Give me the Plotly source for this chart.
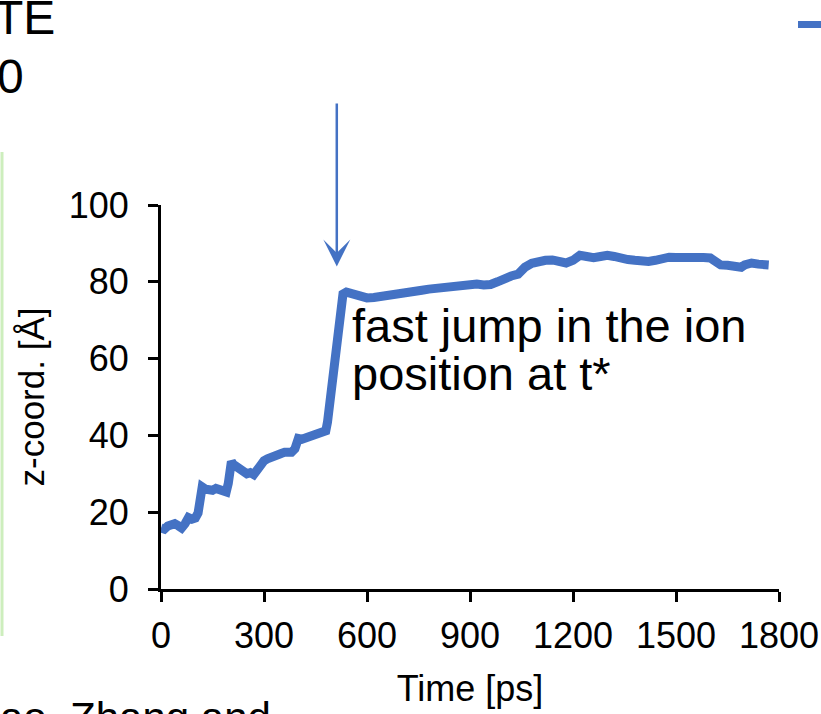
import plotly.graph_objects as go

# ---- data ----
time_ps = [0, 10, 20, 30, 40, 50, 60, 70, 80, 90, 100, 108, 112, 115, 120, 130, 140, 150, 160, 170,
           180, 190, 196, 200, 205, 210, 220, 230, 240, 250, 260, 270, 280, 290, 300, 310, 320, 330,
           340, 350, 360, 370, 380, 390, 395, 400, 410, 420, 430, 440, 450, 460, 470, 480, 485, 488,
           492, 495, 500, 505, 510, 515, 520, 525, 530, 540, 550, 560, 580, 600, 620, 640, 660, 680,
           700, 720, 740, 760, 780, 800, 820, 840, 860, 880, 900, 920, 940, 960, 980, 1000, 1020,
           1040, 1050, 1060, 1080, 1100, 1120, 1140, 1160, 1180, 1200, 1210, 1220, 1240, 1260, 1280,
           1300, 1320, 1340, 1360, 1380, 1400, 1420, 1440, 1460, 1480, 1500, 1520, 1540, 1560, 1580,
           1600, 1610, 1620, 1630, 1650, 1670, 1690, 1700, 1710, 1720, 1740, 1760, 1770]
z_coord = [15.9, 15.6, 16.4, 16.8, 17.0, 16.5, 15.9, 17.0, 18.6, 18.2, 18.5, 19.8, 22.5, 26.3, 26.6,
           26.0, 25.9, 25.7, 26.2, 25.9, 26.0, 25.3, 27.5, 32.5, 33.2, 32.5, 31.7, 31.0, 30.4, 30.0,
           30.3, 29.8, 31.0, 32.5, 33.4, 33.9, 34.4, 34.7, 35.0, 35.3, 35.6, 35.6, 35.6, 36.5, 39.0,
           39.2, 39.0, 39.3, 39.4, 39.6, 39.8, 40.0, 40.4, 41.2, 43.5, 45.8, 47.5, 50.0, 53.0, 57.0,
           61.0, 64.5, 68.5, 74.5, 76.8, 77.3, 77.0, 76.8, 76.3, 75.8, 75.9, 76.1, 76.3, 76.7, 77.0,
           77.3, 77.4, 77.8, 78.1, 78.3, 78.5, 78.7, 79.0, 79.3, 79.5, 79.4, 79.2, 79.3, 80.0, 81.0,
           81.5, 82.0, 83.3, 83.8, 84.8, 85.4, 85.6, 85.7, 85.5, 84.9, 85.6, 86.7, 86.9, 86.6, 86.3,
           86.6, 86.9, 86.6, 86.0, 85.8, 85.6, 85.4, 85.3, 85.6, 86.1, 86.4, 86.3, 86.4, 86.5, 86.4,
           86.3, 86.2, 85.8, 84.8, 84.4, 84.3, 84.0, 83.8, 84.4, 85.0, 84.9, 84.6, 84.4, 84.4]
x_ticks = [0, 300, 600, 900, 1200, 1500, 1800]
y_ticks = [0, 20, 40, 60, 80, 100]

BLUE = "#4472C4"
FONT = "Liberation Sans, Arial, sans-serif"

fig = go.Figure()
fig.add_trace(go.Scatter(x=time_ps, y=z_coord, mode="lines",
                         line=dict(color=BLUE, width=9), showlegend=False,
                         hoverinfo="skip"))

# arrow pointing to t*
fig.add_annotation(x=512, y=84.0, ax=512, ay=126.8, xref="x", yref="y", axref="x", ayref="y",
                   text="", showarrow=True, arrowhead=3, arrowsize=1.8, arrowwidth=2.5,
                   arrowcolor=BLUE)
fig.add_annotation(x=550, y=113.3, xref="x", yref="y", text="t*", showarrow=False,
                   xanchor="left", yanchor="middle", font=dict(size=47, color="black", family=FONT))
fig.add_annotation(x=550, y=68.6, xref="x", yref="y", text="fast jump in the ion", showarrow=False,
                   xanchor="left", yanchor="middle", font=dict(size=47, color="black", family=FONT))
fig.add_annotation(x=550, y=56.0, xref="x", yref="y", text="position at t*", showarrow=False,
                   xanchor="left", yanchor="middle", font=dict(size=47, color="black", family=FONT))

# cropped surrounding text fragments
fig.add_annotation(x=(57 - 161) / 618, y=(589 - 17) / 384, xref="paper", yref="paper", text="TE",
                   showarrow=False, xanchor="right", yanchor="middle",
                   font=dict(size=48, color="black", family=FONT))
fig.add_annotation(x=(26 - 161) / 618, y=(589 - 76) / 384, xref="paper", yref="paper", text="0",
                   showarrow=False, xanchor="right", yanchor="middle",
                   font=dict(size=48, color="black", family=FONT))
fig.add_annotation(x=(-2 - 161) / 618, y=(589 - 717) / 384, xref="paper", yref="paper",
                   text="ao, Zhang and", showarrow=False, xanchor="left", yanchor="middle",
                   font=dict(size=42, color="black", family=FONT))

# legend dash fragment (top right) and green frame edge (left)
fig.add_shape(type="line", xref="paper", yref="paper",
              x0=(798 - 161) / 618, x1=(830 - 161) / 618,
              y0=(589 - 24.5) / 384, y1=(589 - 24.5) / 384,
              line=dict(color=BLUE, width=7))
fig.add_shape(type="line", xref="paper", yref="paper",
              x0=(2 - 161) / 618, x1=(2 - 161) / 618,
              y0=(589 - 152) / 384, y1=(589 - 636) / 384,
              line=dict(color="#cdeebd", width=3))

fig.update_layout(
    width=821, height=714,
    margin=dict(l=161, r=42, t=205, b=125),
    paper_bgcolor="white", plot_bgcolor="white",
    font=dict(family=FONT, color="black"),
    xaxis=dict(range=[0, 1800], tickvals=x_ticks, ticktext=[str(v) for v in x_ticks],
               automargin=False,
               showgrid=False, zeroline=False, showline=True, linecolor="black", linewidth=3,
               ticks="outside", ticklen=10, tickwidth=3, tickcolor="black", ticklabelstandoff=3,
               tickfont=dict(size=36, family=FONT, color="black"),
               title=dict(text="Time [ps]", font=dict(size=36, family=FONT, color="black"),
                          standoff=21)),
    yaxis=dict(range=[0, 100], tickvals=y_ticks, ticktext=[str(v) for v in y_ticks],
               automargin=False,
               showgrid=False, zeroline=False, showline=True, linecolor="black", linewidth=3,
               ticks="outside", ticklen=10, tickwidth=3, tickcolor="black", ticklabelstandoff=12,
               tickfont=dict(size=36, family=FONT, color="black"),
               title=dict(text="z-coord. [Å]", font=dict(size=35, family=FONT, color="black"),
                          standoff=14)),
)

fig.write_html("out.html")
